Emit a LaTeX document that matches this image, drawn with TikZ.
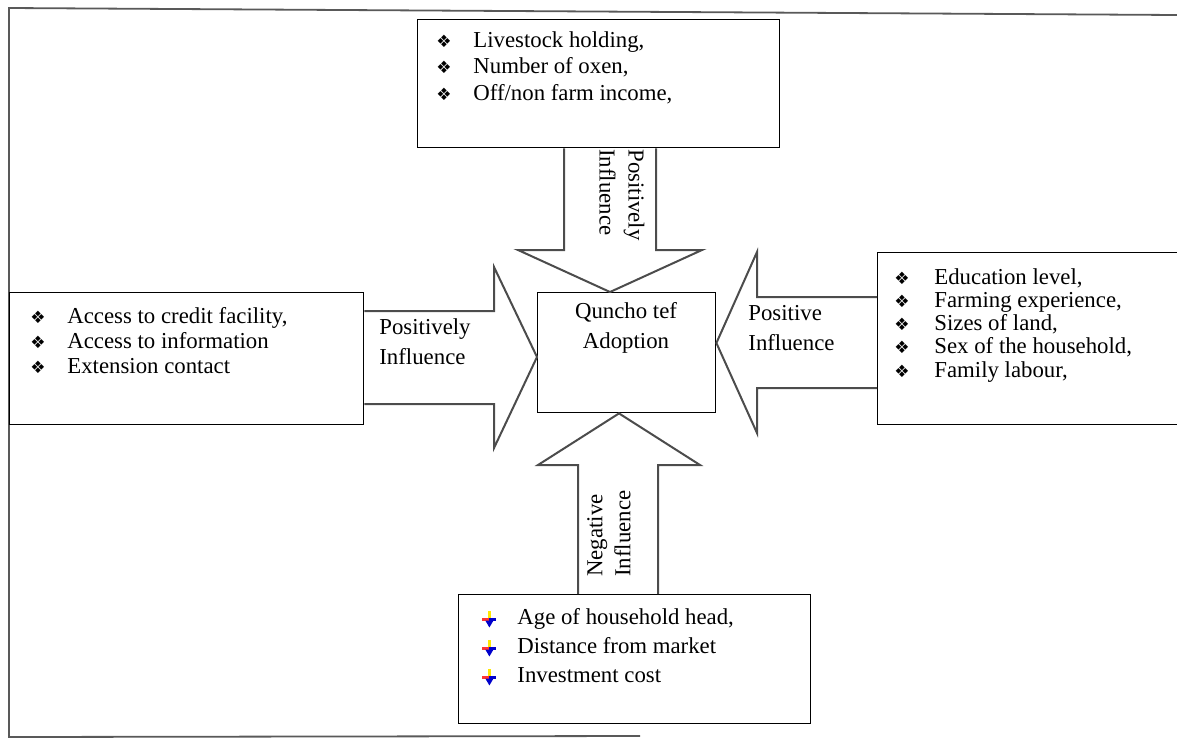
\documentclass[tikz,border=0pt]{standalone}
\usepackage{fontspec}
\setmainfont{Liberation Serif}
\newfontfamily\dingfont{DejaVu Sans}
\usetikzlibrary{shapes,arrows,positioning,fit}
\tikzstyle{factor} = [draw,line width=0.7pt,rectangle,fill=white,inner sep=0,anchor=north west]
\tikzstyle{blockarrow} = [draw,line width=1pt,color=black!70,line join=miter]
\tikzstyle{frame} = [draw,line width=0.9pt,color=black!65]
\tikzstyle{items} = [inner sep=0,anchor=north west,align=left]
\tikzstyle{tag} = [inner sep=0,align=left,font=\fontsize{11.4}{15}\selectfont]
\def \dia {\makebox[18.5pt][l]{\dingfont\fontsize{8.5}{8.5}\selectfont\char"2756}}
\def \diar {\makebox[20pt][l]{\dingfont\fontsize{8.5}{8.5}\selectfont\char"2756}}
\newcommand{\downbul}{\makebox[17.5pt][l]{\tikz[baseline=-2.5pt,x=1pt,y=1pt]{
  \fill[yellow!90!orange] (-0.6,0) rectangle (0.6,4);
  \fill[red!80] (-3.5,-0.6) rectangle (0,0.6);
  \fill[blue!80!black] (0,-0.6) rectangle (3.5,0.6);
  \fill[blue!80!black] (-2,-0.6) -- (2,-0.6) -- (0,-4) -- cycle;}}}

\begin{document}
\begin{tikzpicture}[x=0.5pt,y=-0.5pt]
  \clip (0,0) rectangle (1177,740);
  % outer frame
  \draw[frame] (1177,15) -- (9,8) -- (9,737) -- (640,736);
  % boxes
  \node[factor,minimum width=181pt,minimum height=64pt] (top) at (417,19) {};
  \node[factor,minimum width=177pt,minimum height=66pt] (left) at (9,292) {};
  \node[factor,minimum width=89pt,minimum height=60pt] (qt) at (537,292) {};
  \node[factor,minimum width=165pt,minimum height=86pt] (right) at (877,252) {};
  \node[factor,minimum width=176pt,minimum height=64.5pt] (bot) at (458,594) {};
  % items
  \node[items,font=\fontsize{11.4}{13.25}\selectfont] (toplist) at (436,31)
    {\dia Livestock holding,\\ \dia Number of oxen,\\ \dia Off/non farm income,};
  \node[items,font=\fontsize{11.4}{12.5}\selectfont] (leftlist) at (30,307)
    {\dia Access to credit facility,\\ \dia Access to information\\ \dia Extension contact};
  \node[items,font=\fontsize{11.4}{11.6}\selectfont] (rightlist) at (894,268)
    {\diar Education level,\\ \diar Farming experience,\\ \diar Sizes of land,\\
     \diar Sex of the household,\\ \diar Family labour,};
  \node[items,font=\fontsize{11.4}{14.5}\selectfont] (botlist) at (482,608)
    {\downbul Age of household head,\\ \downbul Distance from market\\ \downbul Investment cost};
  \node[tag,align=center,anchor=north] (qttext) at (626,302) {Quncho tef\\Adoption};
  % arrows
  \draw[blockarrow] (564,0 |- top.south) -- (564,250) -- (518,250) -- (610,0 |- qt.north)
    -- (702,250) -- (656,250) -- (656,0 |- top.south);
  \draw[blockarrow] (left.east |- 0,311) -- (494,311) -- (494,267) -- (qt.west |- 0,357)
    -- (494,448) -- (494,404) -- (left.east |- 0,404);
  \draw[blockarrow] (right.west |- 0,297) -- (757,297) -- (757,252) -- (qt.east |- 0,343)
    -- (757,433) -- (757,388) -- (right.west |- 0,388);
  \draw[blockarrow] (578,0 |- bot.north) -- (578,465) -- (538,465) -- (619,0 |- qt.south)
    -- (700,465) -- (658,465) -- (658,0 |- bot.north);
  % labels
  \node[tag,anchor=north west] (lefttag) at (379,318) {Positively\\Influence};
  \node[tag,anchor=north west] (righttag) at (748,305) {Positive\\Influence};
  \node[tag,rotate=-90,anchor=west,font=\fontsize{11.4}{14.5}\selectfont] (toptag) at (622,149) {Positively\\Influence};
  \node[tag,rotate=90,anchor=west,font=\fontsize{11.4}{14}\selectfont] (bottag) at (609,577) {Negative\\Influence};
\end{tikzpicture}
\end{document}
